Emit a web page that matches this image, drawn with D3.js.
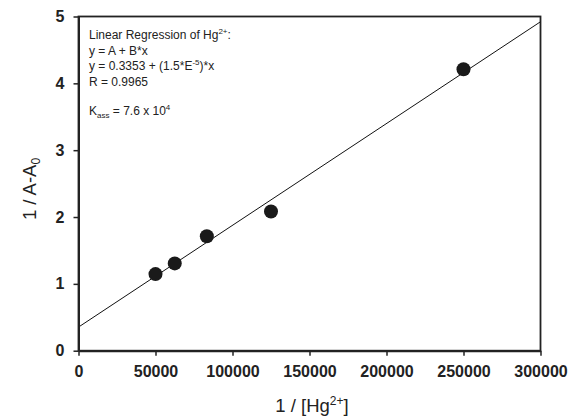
<!DOCTYPE html>
<html>
<head>
<meta charset="utf-8">
<script src="https://cdn.jsdelivr.net/npm/d3@7"></script>
<style>
  body { margin: 0; background: #fff; }
  svg { display: block; font-family: Arial, "Liberation Sans", sans-serif; }
</style>
</head>
<body>
<svg id="chart"></svg>
<script>
// data
const invHg = [50000, 62500, 83333, 125000, 250000];
const invA = [1.146, 1.306, 1.713, 2.083, 4.21];
const xTicks = [0, 50000, 100000, 150000, 200000, 250000, 300000];
const yTicks = [0, 1, 2, 3, 4, 5];

const width = 571;
const height = 416;
const plotL = 78.5, plotR = 540.5, plotT = 16.5, plotB = 350.7;

const svg = d3.select("#chart").attr("width", width).attr("height", height);

const x = d3.scaleLinear().domain([0, 300000]).range([plotL, plotR]);
const y = d3.scaleLinear().domain([0, 5]).range([plotB, plotT]);

// least squares fit of the points
const mx = d3.mean(invHg), my = d3.mean(invA);
let sxy = 0, sxx = 0;
invHg.forEach(function (v, i) {
  sxy += (v - mx) * (invA[i] - my);
  sxx += (v - mx) * (v - mx);
});
const slope = sxy / sxx;
const icept = my - slope * mx;

svg.append("clipPath").attr("id", "clip")
  .append("rect")
  .attr("x", plotL).attr("y", plotT)
  .attr("width", plotR - plotL).attr("height", plotB - plotT);

// frame
svg.append("rect")
  .attr("x", plotL).attr("y", plotT)
  .attr("width", plotR - plotL).attr("height", plotB - plotT)
  .attr("fill", "none")
  .attr("stroke", "#222")
  .attr("stroke-width", 1.8);

svg.append("line")
  .attr("clip-path", "url(#clip)")
  .attr("x1", x(0)).attr("y1", y(icept))
  .attr("x2", x(300000)).attr("y2", y(icept + slope * 300000))
  .attr("stroke", "#111")
  .attr("stroke-width", 1);

svg.selectAll("circle")
  .data(invHg)
  .enter()
  .append("circle")
  .attr("cx", function (d) { return x(d); })
  .attr("cy", function (d, i) { return y(invA[i]); })
  .attr("r", 7)
  .attr("fill", "#1a1a1a");

const xAxis = svg.append("g")
  .attr("transform", "translate(0," + plotB + ")")
  .call(d3.axisBottom(x).tickValues(xTicks).tickFormat(d3.format("d"))
    .tickSizeInner(5).tickSizeOuter(0).tickPadding(9.5));

const yAxis = svg.append("g")
  .attr("transform", "translate(" + plotL + ",0)")
  .call(d3.axisLeft(y).tickValues(yTicks).tickFormat(d3.format("d"))
    .tickSizeInner(5).tickSizeOuter(0).tickPadding(9));

[xAxis, yAxis].forEach(function (g) {
  g.select(".domain").attr("stroke", "#222").attr("stroke-width", 2);
  g.selectAll(".tick line").attr("stroke", "#222").attr("stroke-width", 1.5);
  g.selectAll(".tick text")
    .attr("fill", "#222")
    .attr("font-size", "16px")
    .attr("font-weight", "bold")
    .attr("font-family", "Arial, 'Liberation Sans', sans-serif");
});

// axis titles
const xt = svg.append("text")
  .attr("x", 312).attr("y", 412)
  .attr("text-anchor", "middle")
  .attr("font-size", "18.5px")
  .attr("fill", "#222");
xt.append("tspan").text("1 / [Hg");
xt.append("tspan").attr("dy", -7).attr("font-size", "12px").text("2+");
xt.append("tspan").attr("dy", 7).text("]");

const yt = svg.append("text")
  .attr("transform", "translate(36,189) rotate(-90)")
  .attr("text-anchor", "middle")
  .attr("font-size", "18.5px")
  .attr("fill", "#222");
yt.append("tspan").text("1 / A-A");
yt.append("tspan").attr("dy", 4).attr("font-size", "12px").text("0");

// regression annotation
const ann = svg.append("g")
  .attr("font-size", "12px")
  .attr("fill", "#222");

const l1 = ann.append("text").attr("x", 89).attr("y", 39);
l1.append("tspan").text("Linear Regression of Hg");
l1.append("tspan").attr("dy", -5).attr("font-size", "8px").text("2+");
l1.append("tspan").attr("dy", 5).text(":");

ann.append("text").attr("x", 89).attr("y", 54.5).text("y = A + B*x");

const l3 = ann.append("text").attr("x", 89).attr("y", 70);
l3.append("tspan").text("y = 0.3353 + (1.5*E");
l3.append("tspan").attr("dy", -5).attr("font-size", "8px").text("-5");
l3.append("tspan").attr("dy", 5).text(")*x");

ann.append("text").attr("x", 89).attr("y", 85.5).text("R = 0.9965");

const l5 = ann.append("text").attr("x", 89).attr("y", 115);
l5.append("tspan").text("K");
l5.append("tspan").attr("dy", 3).attr("font-size", "8px").text("ass");
l5.append("tspan").attr("dy", -3).text(" = 7.6 x 10");
l5.append("tspan").attr("dy", -5).attr("font-size", "8px").text("4");
</script>
</body>
</html>
